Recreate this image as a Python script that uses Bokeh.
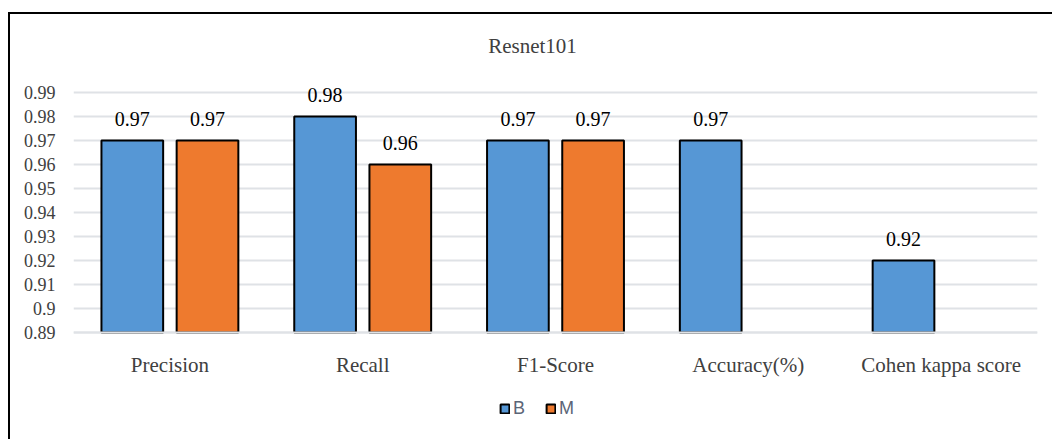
from bokeh.plotting import figure
from bokeh.models import ColumnDataSource, FactorRange, FixedTicker, Legend, LegendItem, Label
from bokeh.transform import dodge
from bokeh.embed import file_html
from bokeh.resources import INLINE

# Metrics for the Resnet101 model, per class (B = benign, M = malignant)
metrics = ["Precision", "Recall", "F1-Score", "Accuracy(%)", "Cohen kappa score"]
b_values = [0.97, 0.98, 0.97, 0.97, 0.92]
m_values = [0.97, 0.96, 0.97, None, None]

y_ticks = [0.89, 0.90, 0.91, 0.92, 0.93, 0.94, 0.95, 0.96, 0.97, 0.98, 0.99]
y_tick_labels = ["0.89", "0.9", "0.91", "0.92", "0.93", "0.94", "0.95",
                 "0.96", "0.97", "0.98", "0.99"]
chart_title = "Resnet101"

BLUE = "#5697d5"
ORANGE = "#ee7a2e"
SERIF = "Liberation Serif"
TEXT = "#404040"

b_src = ColumnDataSource(dict(
    cat=metrics, val=b_values, lbl=[f"{v:.2f}" for v in b_values]))
m_cat = [c for c, v in zip(metrics, m_values) if v is not None]
m_val = [v for v in m_values if v is not None]
m_src = ColumnDataSource(dict(cat=m_cat, val=m_val, lbl=[f"{v:.2f}" for v in m_val]))

# canvas layout: the plotting frame spans the full height so the title and
# legend (drawn inside the frame) stay visible above and below the bars
W, H = 1044, 427
LEFT, RIGHT = 63, 17
PX_PER_UNIT = 2400                 # 24 px per 0.01
ABOVE_PX, BELOW_PX = 78, 109       # frame room above 0.99 and below 0.89
y_top = y_ticks[-1] + ABOVE_PX / PX_PER_UNIT
y_bottom = y_ticks[0] - BELOW_PX / PX_PER_UNIT

p = figure(
    x_range=FactorRange(*metrics, range_padding=0),
    y_range=(y_bottom, y_top),
    width=W, height=H,
    min_border_left=LEFT, min_border_right=RIGHT,
    min_border_top=0, min_border_bottom=0,
    output_backend="svg", toolbar_location=None,
)
p.styles = {
    "margin-left": "8px", "margin-top": "12px",
    "border-left": "2px solid black", "border-top": "2px solid black",
}

p.outline_line_color = None
p.background_fill_color = "white"

# title centred on the whole canvas (screen units are frame-relative)
p.add_layout(Label(
    x=W / 2 - LEFT, y=H - 31, x_units="screen", y_units="screen", text=chart_title,
    text_align="center", text_baseline="middle",
    text_font=SERIF, text_font_size="21px", text_color=TEXT,
))

bar_w = 0.32
off = 0.195
rb = p.vbar(x=dodge("cat", -off, range=p.x_range), top="val", bottom=y_ticks[0],
            width=bar_w, source=b_src, fill_color=BLUE,
            line_color="black", line_width=2)
rm = p.vbar(x=dodge("cat", off, range=p.x_range), top="val", bottom=y_ticks[0],
            width=bar_w, source=m_src, fill_color=ORANGE,
            line_color="black", line_width=2)

for src, o in ((b_src, -off), (m_src, off)):
    p.text(x=dodge("cat", o, range=p.x_range), y="val", text="lbl", source=src,
           text_align="center", text_baseline="bottom", y_offset=-15,
           text_font=SERIF, text_font_size="20px", text_color="black")

# axes
p.yaxis.ticker = FixedTicker(ticks=y_ticks)
p.yaxis.major_label_overrides = {t: l for t, l in zip(y_ticks, y_tick_labels)}
p.yaxis.axis_line_color = None
p.yaxis.major_tick_line_color = None
p.yaxis.minor_tick_line_color = None
p.yaxis.major_label_standoff = 12
p.yaxis.major_label_text_font = SERIF
p.yaxis.major_label_text_font_size = "18px"
p.yaxis.major_label_text_color = TEXT

p.xaxis.fixed_location = y_ticks[0]
p.xaxis.axis_line_color = "#dfe2e6"
p.xaxis.axis_line_width = 2
p.xaxis.major_tick_line_color = None
p.xaxis.minor_tick_line_color = None
p.xaxis.major_label_standoff = 14
p.xaxis.major_label_text_font = SERIF
p.xaxis.major_label_text_font_size = "21px"
p.xaxis.major_label_text_color = TEXT

p.xgrid.grid_line_color = None
p.ygrid.grid_line_color = "#dfe2e6"
p.ygrid.grid_line_width = 2

legend = Legend(
    items=[LegendItem(label="B", renderers=[rb]), LegendItem(label="M", renderers=[rm])],
    orientation="horizontal", location=(426, 22),
    label_text_font="Liberation Sans", label_text_font_size="18px",
    label_text_color="#5b6577", glyph_width=11, glyph_height=11,
    spacing=12, label_standoff=3, padding=0, margin=0,
    border_line_color=None, background_fill_alpha=0,
)
p.add_layout(legend, "center")

open("out.html", "w").write(file_html(p, INLINE))
